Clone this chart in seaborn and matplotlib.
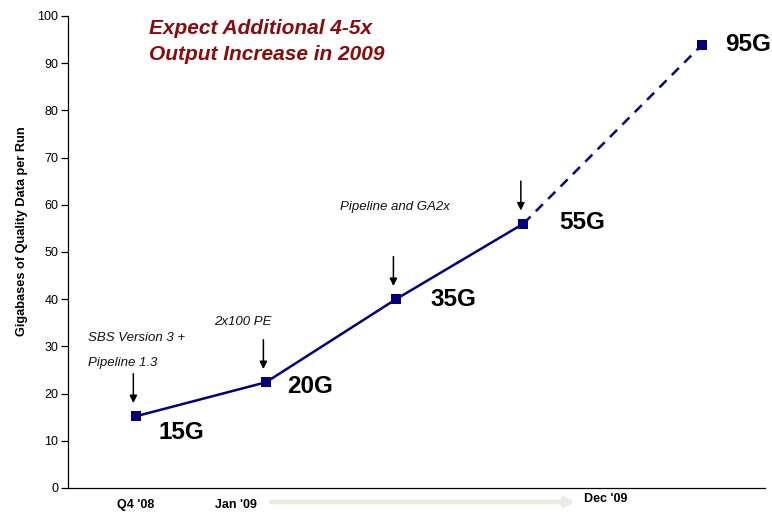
import matplotlib
matplotlib.use("Agg")
import matplotlib.pyplot as plt
import matplotlib.transforms as mtransforms
import seaborn as sns
import pandas as pd

# ---- data ----
period = [0.0, 1.0, 2.0, 2.98, 4.35]          # run period index
gigabases = [15.2, 22.4, 40.0, 56.0, 93.8]     # Gb of quality data per run
value_labels = ["15G", "20G", "35G", "55G", "95G"]
x_tick_pos = [0.0, 0.77, 3.61]
x_tick_labels = ["Q4 '08", "Jan '09", "Dec '09"]
title_text = "Expect Additional 4-5x\nOutput Increase in 2009"

sns.set_theme(style="white")
plt.rcParams["font.family"] = ["Liberation Sans", "DejaVu Sans"]
plt.rcParams["text.color"] = "black"
plt.rcParams["axes.labelcolor"] = "black"
plt.rcParams["ytick.color"] = "black"

fig = plt.figure(figsize=(7.72, 5.14), dpi=100)
ax = fig.add_axes([0.088, 0.0506, 0.903, 0.9184])

navy = "#00007F"
df = pd.DataFrame({"x": period, "y": gigabases})
solid = df.iloc[:4]
dashed = df.iloc[3:]
sns.lineplot(data=solid, x="x", y="y", ax=ax, color=navy, lw=1.8,
             marker="s", markersize=7.5, markeredgewidth=0, sort=False)
sns.lineplot(data=dashed, x="x", y="y", ax=ax, color=navy, lw=1.8,
             linestyle=(0, (4, 3)), sort=False)
ax.plot(period[4], gigabases[4], marker="s", markersize=7.5, color=navy, mew=0)

ax.set_xlim(-0.523, 4.838)
ax.set_ylim(0, 100)
ax.set_yticks(range(0, 101, 10))
ax.tick_params(axis="y", which="both", left=True, length=5, width=0.9,
               color="black", labelsize=9, pad=2, labelcolor="black")
ax.set_xticks([])
ax.set_xlabel("")
ax.set_ylabel("Gigabases of Quality Data per Run", fontsize=9.2,
              fontweight="bold", color="black")
ax.yaxis.set_label_coords(-0.058, 0.545)
for s in ["top", "right"]:
    ax.spines[s].set_visible(False)
for s in ["left", "bottom"]:
    ax.spines[s].set_color("black")
    ax.spines[s].set_linewidth(0.9)

# value labels
offsets = [(16, -12), (15, -3), (25, -0.5), (26, 0.5), (17, 0.5)]
for x, y, lab, (dx, dy) in zip(period, gigabases, value_labels, offsets):
    ax.annotate(lab, (x, y), xytext=(dx, dy), textcoords="offset points",
                fontsize=17.5, fontweight="bold", va="center", ha="left",
                color="black")

# milestone arrows
for x, y in zip(period[:4], gigabases[:4]):
    ax.annotate("", xy=(x - 0.02, y + 2.2), xytext=(x - 0.02, y + 9.6),
                arrowprops=dict(arrowstyle="-|>", color="black", lw=1.1,
                                mutation_scale=11))

note_kw = dict(fontsize=9.5, style="italic", color="#111111", va="center")
ax.text(-0.37, 31.7, "SBS Version 3 +", **note_kw)
ax.text(-0.37, 26.5, "Pipeline 1.3", **note_kw)
ax.text(0.6, 35.2, "2x100 PE", **note_kw)
ax.text(1.57, 59.5, "Pipeline and GA2x", **note_kw)

ax.text(0.1, 99.3, title_text, fontsize=15, fontweight="bold", style="italic",
        color="#8B0A0A", va="top", ha="left", linespacing=1.45)

# x tick labels below axis
trans = mtransforms.blended_transform_factory(ax.transData, fig.transFigure)
y_fig = [1 - 505 / 514, 1 - 505 / 514, 1 - 499 / 514]
for xp, lab, yf in zip(x_tick_pos, x_tick_labels, y_fig):
    ax.text(xp, yf, lab, transform=trans, fontsize=9, fontweight="bold",
            ha="center", va="center", color="black")
ax.annotate("", xy=(3.4, 1 - 502 / 514), xytext=(1.02, 1 - 502 / 514),
            xycoords=trans, textcoords=trans, annotation_clip=False,
            arrowprops=dict(arrowstyle="-|>", color="#ECE9E0", lw=3.5,
                            mutation_scale=12))

fig.savefig("out.png", dpi=100)
